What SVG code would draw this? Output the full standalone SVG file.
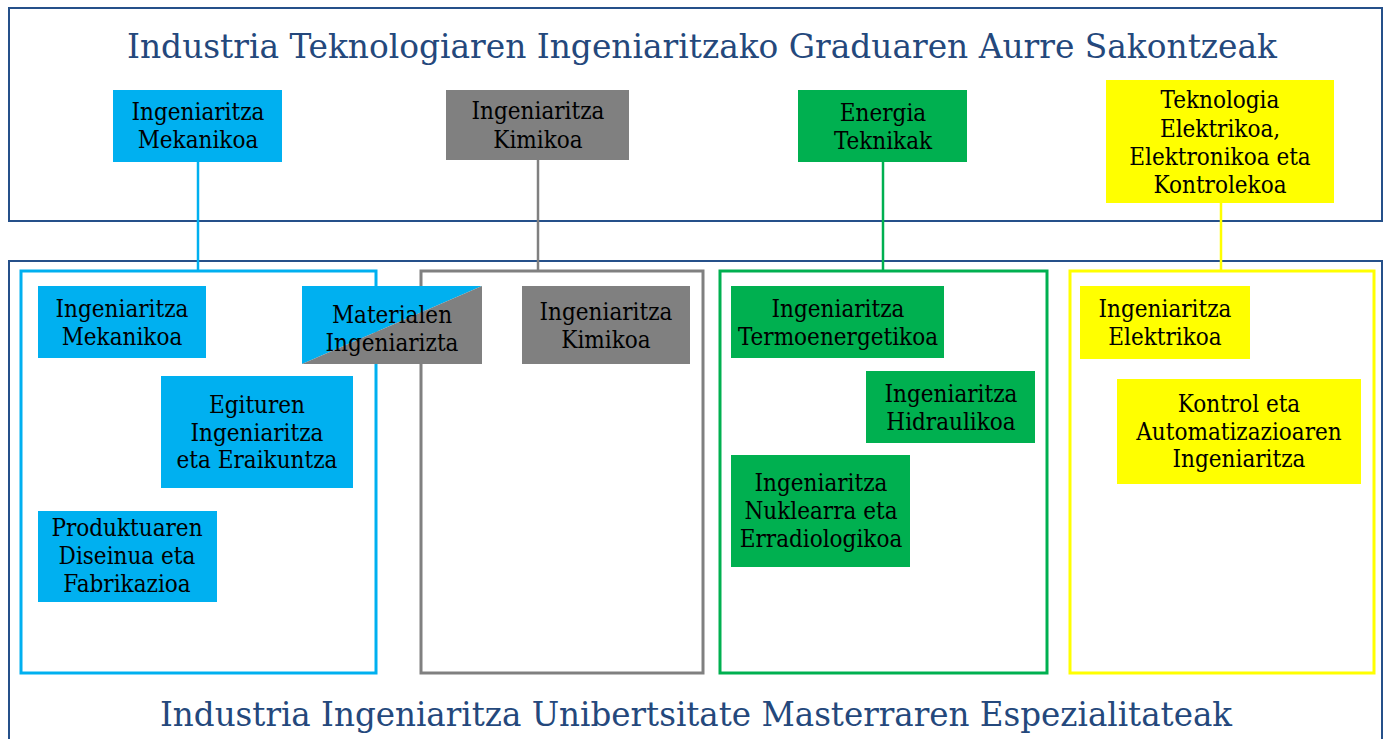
<svg xmlns="http://www.w3.org/2000/svg" width="1389" height="739" viewBox="0 0 1389 739">
<defs>
<style>
.outer{fill:none;stroke:#25508A;stroke-width:2}
.title{font-family:"DejaVu Serif Condensed","DejaVu Serif","Liberation Serif",serif;font-stretch:condensed;font-size:33px;fill:#24487C}
.lbl{font-family:"DejaVu Serif Condensed","DejaVu Serif","Liberation Serif",serif;font-stretch:condensed;font-size:24px;fill:#000;text-anchor:middle}
.blue{fill:#00B0F0}
.gray{fill:#808080}
.green{fill:#00B050}
.yellow{fill:#FFFF00}
.gb{fill:none;stroke:#00B0F0;stroke-width:3}
.gg{fill:none;stroke:#808080;stroke-width:3}
.gn{fill:none;stroke:#00B050;stroke-width:3}
.gy{fill:none;stroke:#FFFF00;stroke-width:3}
.c{fill:none;stroke-width:2.5}
</style>
</defs>
<rect width="1389" height="739" fill="#fff"/>

<g id="top-frame">
<rect class="outer" x="9" y="8" width="1373" height="213"/>
<text class="title" x="702" y="58" text-anchor="middle" textLength="1150" lengthAdjust="spacingAndGlyphs">Industria Teknologiaren Ingeniaritzako Graduaren Aurre Sakontzeak</text>
</g>

<g id="bottom-frame">
<rect class="outer" x="9" y="261" width="1373" height="490"/>
<text class="title" x="696" y="726" text-anchor="middle" textLength="1072" lengthAdjust="spacingAndGlyphs">Industria Ingeniaritza Unibertsitate Masterraren Espezialitateak</text>
</g>

<g id="connectors">
<line class="c" x1="198" y1="162" x2="198" y2="271" stroke="#00B0F0"/>
<line class="c" x1="538" y1="160" x2="538" y2="271" stroke="#808080"/>
<line class="c" x1="883" y1="162" x2="883" y2="271" stroke="#00B050"/>
<line class="c" x1="1221" y1="203" x2="1221" y2="271" stroke="#FFFF00"/>
</g>

<g id="group-mekanikoa"><rect class="gb" x="21" y="271" width="355" height="402"/></g>
<g id="group-kimikoa"><rect class="gg" x="421" y="271" width="282" height="402"/></g>
<g id="group-energia"><rect class="gn" x="720" y="271" width="327" height="402"/></g>
<g id="group-elektrikoa"><rect class="gy" x="1070" y="271" width="304" height="402"/></g>

<g id="top-mekanikoa">
<rect class="blue" x="113" y="90" width="169" height="72"/>
<text class="lbl" x="198" y="120">Ingeniaritza<tspan x="198" y="148">Mekanikoa</tspan></text>
</g>
<g id="top-kimikoa">
<rect class="gray" x="446" y="90" width="183" height="70"/>
<text class="lbl" x="538" y="119">Ingeniaritza<tspan x="538" y="148">Kimikoa</tspan></text>
</g>
<g id="top-energia">
<rect class="green" x="798" y="90" width="169" height="72"/>
<text class="lbl" x="883" y="121">Energia<tspan x="883" y="149">Teknikak</tspan></text>
</g>
<g id="top-elektrikoa">
<rect class="yellow" x="1106" y="80" width="228" height="123"/>
<text class="lbl" x="1220" y="108">Teknologia<tspan x="1220" y="137">Elektrikoa,</tspan><tspan x="1220" y="165">Elektronikoa eta</tspan><tspan x="1220" y="193">Kontrolekoa</tspan></text>
</g>

<g id="mekanikoa">
<rect class="blue" x="38" y="286" width="168" height="72"/>
<text class="lbl" x="122" y="317">Ingeniaritza<tspan x="122" y="345">Mekanikoa</tspan></text>
</g>
<g id="materialen">
<polygon class="blue" points="302,286 482,286 302,364"/>
<polygon class="gray" points="482,286 482,364 302,364"/>
<text class="lbl" x="392" y="323">Materialen<tspan x="392" y="351">Ingeniarizta</tspan></text>
</g>
<g id="egituren">
<rect class="blue" x="161" y="376" width="192" height="112"/>
<text class="lbl" x="257" y="413">Egituren<tspan x="257" y="441">Ingeniaritza</tspan><tspan x="257" y="468">eta  Eraikuntza</tspan></text>
</g>
<g id="produktuaren">
<rect class="blue" x="38" y="511" width="179" height="91"/>
<text class="lbl" x="127" y="536">Produktuaren<tspan x="127" y="564">Diseinua eta</tspan><tspan x="127" y="592">Fabrikazioa</tspan></text>
</g>
<g id="kimikoa">
<rect class="gray" x="522" y="286" width="168" height="78"/>
<text class="lbl" x="606" y="320">Ingeniaritza<tspan x="606" y="348">Kimikoa</tspan></text>
</g>
<g id="termoenergetikoa">
<rect class="green" x="731" y="286" width="213" height="72"/>
<text class="lbl" x="838" y="317">Ingeniaritza<tspan x="838" y="345">Termoenergetikoa</tspan></text>
</g>
<g id="hidraulikoa">
<rect class="green" x="866" y="371" width="169" height="72"/>
<text class="lbl" x="951" y="402">Ingeniaritza<tspan x="951" y="430">Hidraulikoa</tspan></text>
</g>
<g id="nuklearra">
<rect class="green" x="731" y="455" width="179" height="112"/>
<text class="lbl" x="821" y="491">Ingeniaritza<tspan x="821" y="519">Nuklearra eta</tspan><tspan x="821" y="547">Erradiologikoa</tspan></text>
</g>
<g id="elektrikoa">
<rect class="yellow" x="1080" y="286" width="170" height="73"/>
<text class="lbl" x="1165" y="317">Ingeniaritza<tspan x="1165" y="345">Elektrikoa</tspan></text>
</g>
<g id="kontrol">
<rect class="yellow" x="1117" y="379" width="244" height="105"/>
<text class="lbl" x="1239" y="412">Kontrol eta<tspan x="1239" y="440">Automatizazioaren</tspan><tspan x="1239" y="467">Ingeniaritza</tspan></text>
</g>
</svg>
